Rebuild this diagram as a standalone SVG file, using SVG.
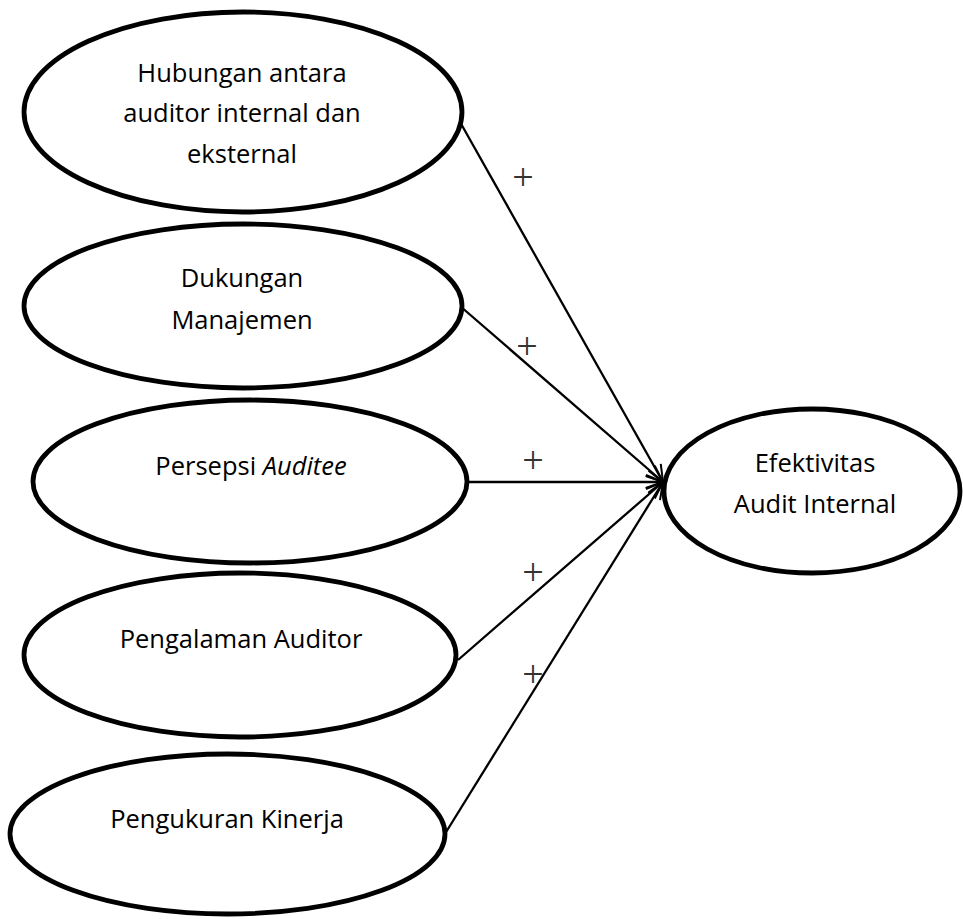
<svg xmlns="http://www.w3.org/2000/svg" width="963" height="919" viewBox="0 0 963 919">
<style>
.node ellipse{fill:#fff;stroke:#000;stroke-width:4.8}
.lbl{font-family:"Open Sans","Liberation Sans",sans-serif;font-size:25.5px;fill:#000;text-anchor:middle}
.conn line{stroke:#000;stroke-width:2.3;fill:none;marker-end:url(#arr)}
.plus{font-family:"Liberation Serif",serif;font-size:38px;fill:#333;text-anchor:middle}
</style>
<defs>
<marker id="arr" markerUnits="userSpaceOnUse" viewBox="0 0 20 16" markerWidth="20" markerHeight="16" refX="18" refY="8" orient="auto">
<path d="M1,1 L18,8 L1,15" fill="none" stroke="#000" stroke-width="2"/>
</marker>
</defs>
<rect width="963" height="919" fill="#fff"/>
<g id="connectors" class="conn">
<line x1="460" y1="122" x2="663" y2="482"/>
<line x1="460" y1="306" x2="663" y2="482"/>
<line x1="467" y1="482" x2="663" y2="482"/>
<line x1="458" y1="660" x2="663" y2="482"/>
<line x1="443" y1="837" x2="663" y2="482"/>
</g>
<g id="signs">
<text class="plus" x="523" y="190">+</text>
<text class="plus" x="527" y="359">+</text>
<text class="plus" x="533" y="473">+</text>
<text class="plus" x="533" y="585">+</text>
<text class="plus" x="533" y="687">+</text>
</g>
<g id="n1" class="node">
<ellipse cx="243" cy="112" rx="219" ry="100"/>
<text class="lbl" x="242" y="82">Hubungan antara</text>
<text class="lbl" x="242" y="122">auditor internal dan</text>
<text class="lbl" x="242" y="163">eksternal</text>
</g>
<g id="n2" class="node">
<ellipse cx="243" cy="306" rx="219" ry="82"/>
<text class="lbl" x="242" y="287">Dukungan</text>
<text class="lbl" x="242" y="329">Manajemen</text>
</g>
<g id="n3" class="node">
<ellipse cx="250" cy="481.5" rx="217" ry="81.5"/>
<text class="lbl" x="251" y="475">Persepsi <tspan font-style="italic">Auditee</tspan></text>
</g>
<g id="n4" class="node">
<ellipse cx="240" cy="655" rx="216" ry="82"/>
<text class="lbl" x="241" y="648">Pengalaman Auditor</text>
</g>
<g id="n5" class="node">
<ellipse cx="227.5" cy="834" rx="217.5" ry="80"/>
<text class="lbl" x="227" y="828">Pengukuran Kinerja</text>
</g>
<g id="n6" class="node">
<ellipse cx="812" cy="491" rx="148" ry="82"/>
<text class="lbl" x="815" y="472">Efektivitas</text>
<text class="lbl" x="815" y="513">Audit Internal</text>
</g>
</svg>
